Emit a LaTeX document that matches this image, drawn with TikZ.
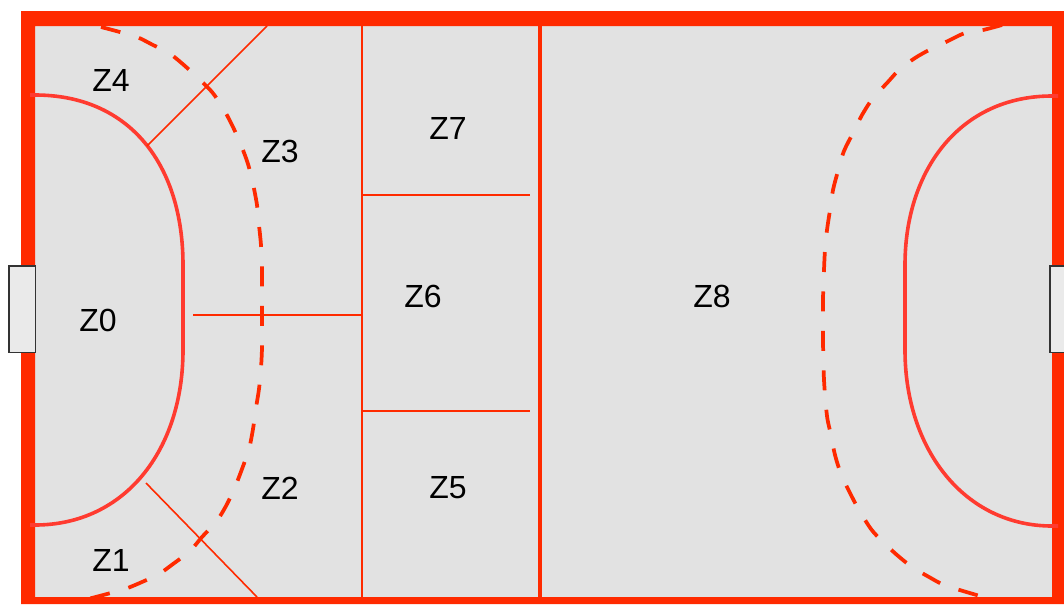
\documentclass[tikz,border=0pt]{standalone}
\usepackage{xcolor}
\usepackage{fontspec}
\setmainfont{Liberation Sans}
\definecolor{linered}{HTML}{FF2A00}
\definecolor{arcred}{HTML}{FF3B30}
\definecolor{courtgray}{HTML}{E2E2E2}
\definecolor{goalgray}{HTML}{EAEAEA}
\tikzset{
	zone/.style={font=\fontsize{24}{24}\selectfont, inner sep=0pt},
	zoneline/.style={draw=linered, line width=1.2pt},
	arealine/.style={draw=arcred, line width=2.7pt},
	freeline/.style={draw=linered, line width=2.8pt, dash pattern=on 15pt off 14.6pt, smooth},
	goal/.style={draw=black!80, fill=goalgray, line width=0.8pt}
}
\begin{document}
\begin{tikzpicture}[x=0.75pt, y=-0.75pt]
	\useasboundingbox (0,0) rectangle (1064,604);
	\clip (0,0) rectangle (1064,604);

	\fill[courtgray] (35,26) rectangle (1052,597);

	\draw[freeline] plot coordinates {(101,27) (118,31.5) (137,37) (153,45) (169,53) (185,66) (199,79) (212,92) (223,108) (233,127) (241,145) (248,164) (253,184) (257,205) (259,225) (261,245) (262,266) (262,287) (262,307) (262,328) (262,348) (261,368) (259,389) (256,408) (253,429) (249,449) (242,469) (235,487) (226,506) (216,522) (202,537) (190,551) (173,564) (159,574) (142,582) (125,589) (107,594) (88,599)};
	\draw[freeline] plot coordinates {(1002,25) (983,30) (965,33) (948,41) (931,49) (915,58) (899,70) (887,83) (873,98) (862,115) (853,133) (844,151) (838,171) (833,190) (830,210) (827,230) (825,250) (824,270) (823,300) (823,340) (824,380) (827,416) (831,435) (835,455) (841,474) (850,493) (859,510) (871,529) (882,541) (897,555) (912,567) (929,577) (944,585) (963,591) (980,596)};

	\fill[linered, even odd rule] (21,11) rectangle (1064,604) (35,26) rectangle (1052,597);

	\draw[arealine] (30,95) -- (35,95) .. controls (130,95) and (183,165) .. (183,265) -- (183,350) .. controls (183,450) and (125,525) .. (35,525) -- (30,525);
	\draw[arealine] (1058,96) -- (1052,96) .. controls (960,96) and (905,170) .. (905,265) -- (905,350) .. controls (905,450) and (965,526) .. (1052,526) -- (1058,526);

	\draw[zoneline] (147,146) -- (267,26);
	\draw[zoneline] (146,483) -- (257,597);
	\draw[zoneline] (193,315) -- (362,315);
	\draw[zoneline] (362,26) -- (362,597);
	\draw[zoneline] (362,195) -- (530,195);
	\draw[zoneline] (362,411) -- (530,411);
	\draw[linered, line width=2.4pt] (540,26) -- (540,597);

	\draw[goal] (9,266) rectangle (35.5,352.5);
	\draw[goal] (1050,266) rectangle (1070,352.5);

	\node[zone] (z0) at (98,320) {Z0};
	\node[zone] (z1) at (111,560) {Z1};
	\node[zone] (z2) at (280,488) {Z2};
	\node[zone] (z3) at (280,151) {Z3};
	\node[zone] (z4) at (111,80) {Z4};
	\node[zone] (z5) at (448,488) {Z5};
	\node[zone] (z6) at (423,296) {Z6};
	\node[zone] (z7) at (448,128) {Z7};
	\node[zone] (z8) at (712,296) {Z8};
\end{tikzpicture}
\end{document}
